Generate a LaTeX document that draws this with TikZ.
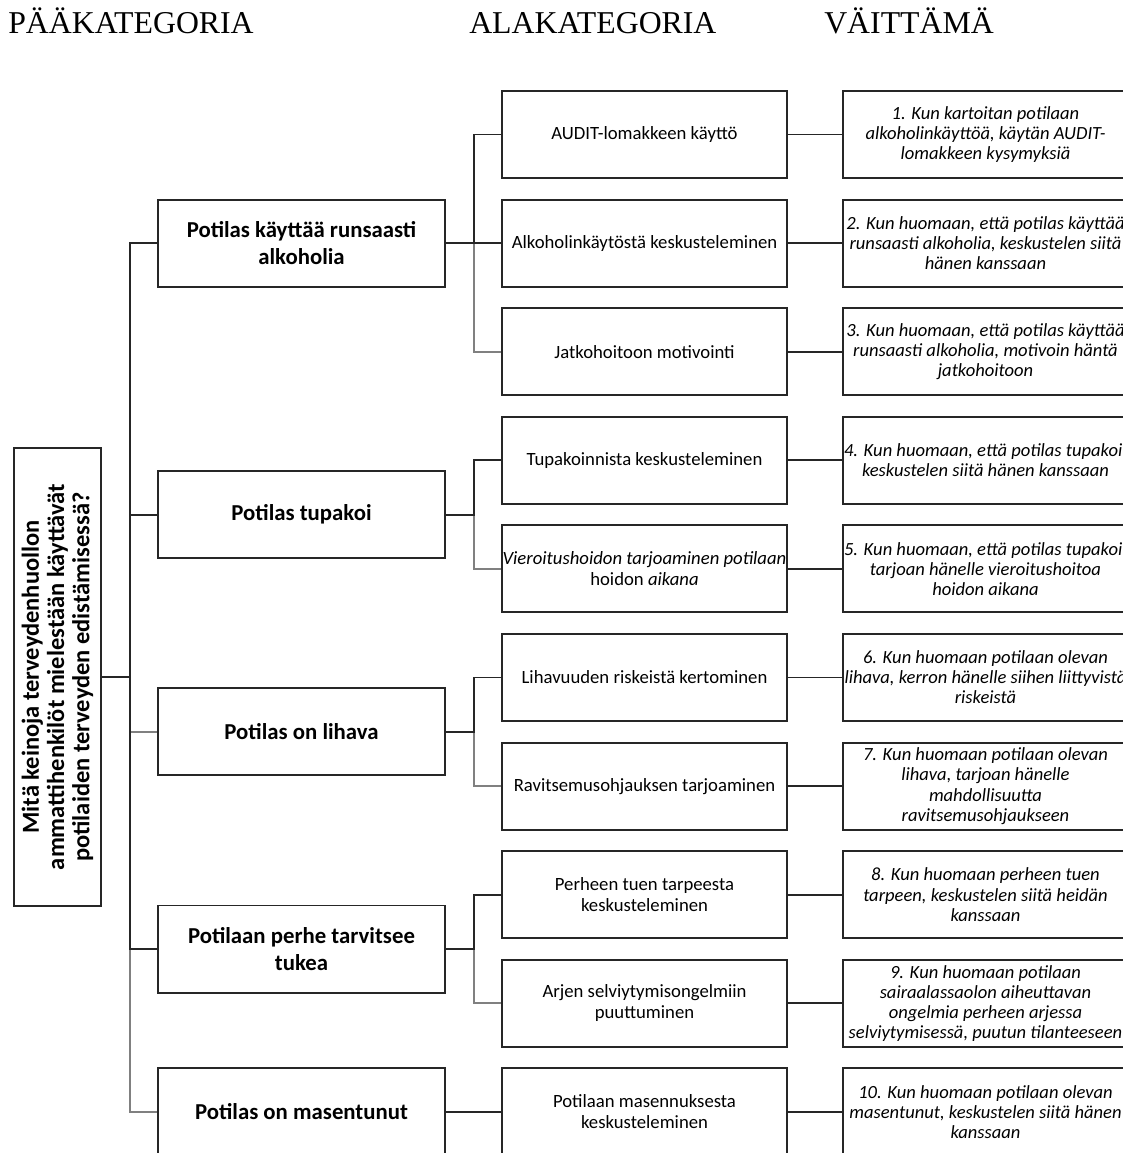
\documentclass[tikz,border=0pt]{standalone}
\usepackage{fontspec}
\setmainfont{Carlito}
\newfontfamily\otsikkofont{Liberation Serif}
\usepackage{tikz}

\begin{document}
\begin{tikzpicture}[x=0.025cm, y=-0.025cm, ot/.style={anchor=base west, inner sep=0pt, font=\otsikkofont\fontsize{22.6}{26}\selectfont}, juuri/.style={draw=black!85, line width=1.4pt, minimum width=2.175cm, minimum height=11.45cm}, pk/.style={draw=black!85, line width=1.4pt, minimum width=7.175cm, minimum height=2.175cm, inner xsep=0pt, align=center, font=\fontsize{16.2}{18.7}\selectfont\bfseries}, ak/.style={draw=black!85, line width=1.4pt, minimum width=7.125cm, minimum height=2.175cm, inner xsep=0pt, align=center, font=\fontsize{13.3}{15}\selectfont}, vt/.style={ak, font=\fontsize{13.2}{14.3}\selectfont\itshape}, ln/.style={black!85, line width=1.4pt}, lg/.style={black!50, line width=1.4pt}]
\useasboundingbox (0,0) rectangle (1123,1153);
\clip (0,0) rectangle (1123,1153);
\node[ot] (h1) at (8,33) {PÄÄKATEGORIA};
\node[ot] (h2) at (469,33) {ALAKATEGORIA};
\node[ot] (h3) at (824,33) {VÄITTÄMÄ};
\node[juuri] (q) at (57.5,677) {};
\node[rotate=90, align=center, inner sep=0pt, font=\fontsize{17.4}{18}\selectfont\bfseries] (qt) at (q) {Mitä keinoja terveydenhuollon\\ammattihenkilöt mielestään käyttävät\\potilaiden terveyden edistämisessä?};
\node[pk] (p1) at (301.5,243.1) {Potilas käyttää runsaasti\\alkoholia};
\node[pk] (p2) at (301.5,514.6) {Potilas tupakoi};
\node[pk] (p3) at (301.5,731.8) {Potilas on lihava};
\node[pk] (p4) at (301.5,949) {Potilaan perhe tarvitsee\\tukea};
\node[pk] (p5) at (301.5,1111.9) {Potilas on masentunut};
\node[ak] (a1) at (644.5,134.5) {AUDIT-lomakkeen käyttö};
\node[ak] (a2) at (644.5,243.1) {Alkoholinkäytöstä keskusteleminen};
\node[ak] (a3) at (644.5,351.7) {Jatkohoitoon motivointi};
\node[ak] (b1) at (644.5,460.3) {Tupakoinnista keskusteleminen};
\node[ak] (b2) at (644.5,568.9) {\textit{Vieroitushoidon tarjoaminen potilaan}\\hoidon \textit{aikana}};
\node[ak] (c1) at (644.5,677.5) {Lihavuuden riskeistä kertominen};
\node[ak] (c2) at (644.5,786.1) {Ravitsemusohjauksen tarjoaminen};
\node[ak] (d1) at (644.5,894.7) {Perheen tuen tarpeesta\\keskusteleminen};
\node[ak] (d2) at (644.5,1003.3) {Arjen selviytymisongelmiin\\puuttuminen};
\node[ak] (e1) at (644.5,1111.9) {Potilaan masennuksesta\\keskusteleminen};
\node[vt] (v1) at (985.5,134.5) {1. Kun kartoitan potilaan\\alkoholinkäyttöä, käytän AUDIT-\\lomakkeen kysymyksiä};
\node[vt] (v2) at (985.5,243.1) {2. Kun huomaan, että potilas käyttää\\runsaasti alkoholia, keskustelen siitä\\hänen kanssaan};
\node[vt] (v3) at (985.5,351.7) {3. Kun huomaan, että potilas käyttää\\runsaasti alkoholia, motivoin häntä\\jatkohoitoon};
\node[vt] (v4) at (985.5,460.3) {4. Kun huomaan, että potilas tupakoi,\\keskustelen siitä hänen kanssaan};
\node[vt] (v5) at (985.5,568.9) {5. Kun huomaan, että potilas tupakoi,\\tarjoan hänelle vieroitushoitoa\\hoidon aikana};
\node[vt] (v6) at (985.5,677.5) {6. Kun huomaan potilaan olevan\\lihava, kerron hänelle siihen liittyvistä\\riskeistä};
\node[vt] (v7) at (985.5,786.1) {7. Kun huomaan potilaan olevan\\lihava, tarjoan hänelle\\mahdollisuutta\\ravitsemusohjaukseen};
\node[vt] (v8) at (985.5,894.7) {8. Kun huomaan perheen tuen\\tarpeen, keskustelen siitä heidän\\kanssaan};
\node[vt] (v9) at (985.5,1003.3) {9. Kun huomaan potilaan\\sairaalassaolon aiheuttavan\\ongelmia perheen arjessa\\selviytymisessä, puutun tilanteeseen};
\node[vt] (v10) at (985.5,1111.9) {10. Kun huomaan potilaan olevan\\masentunut, keskustelen siitä hänen\\kanssaan};
\draw[lg] (q.east) -- ++(28,0) |- (p5.west); \draw[lg] (q.east) -- ++(28,0) |- (p3.west);
\draw[ln] (q.east) -- ++(28,0) |- (p1.west); \draw[ln] (q.east) -- ++(28,0) |- (p2.west); \draw[ln] (q.east) -- ++(28,0) |- (p4.west);
\draw[lg] (p1.east) -- ++(28,0) |- (a3.west); \draw[lg] (p2.east) -- ++(28,0) |- (b2.west); \draw[lg] (p3.east) -- ++(28,0) |- (c2.west); \draw[lg] (p4.east) -- ++(28,0) |- (d2.west);
\draw[ln] (p1.east) -- ++(28,0) |- (a1.west); \draw[ln] (p1.east) -- (a2.west); \draw[ln] (p2.east) -- ++(28,0) |- (b1.west); \draw[ln] (p3.east) -- ++(28,0) |- (c1.west); \draw[ln] (p4.east) -- ++(28,0) |- (d1.west); \draw[ln] (p5.east) -- (e1.west);
\draw[ln] (a1) -- (v1); \draw[ln] (a2) -- (v2); \draw[ln] (a3) -- (v3); \draw[ln] (b1) -- (v4); \draw[ln] (b2) -- (v5);
\draw[ln] (c1) -- (v6); \draw[ln] (c2) -- (v7); \draw[ln] (d1) -- (v8); \draw[ln] (d2) -- (v9); \draw[ln] (e1) -- (v10);
\end{tikzpicture}
\end{document}
